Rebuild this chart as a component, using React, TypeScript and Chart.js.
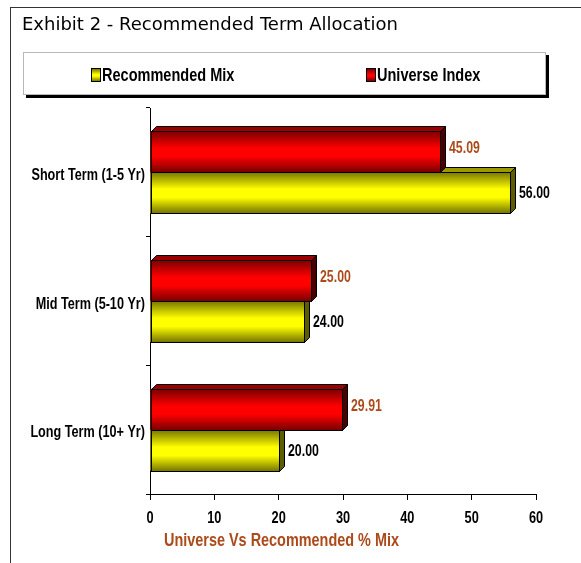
import { useEffect, useRef } from "react";
import { Chart, registerables } from "chart.js";

Chart.register(...registerables);

// Term buckets, top to bottom
const categories = ["Short Term (1-5 Yr)", "Mid Term (5-10 Yr)", "Long Term (10+ Yr)"];
// Allocation in percent
const universeIndex = [45.09, 25.0, 29.91];
const recommendedMix = [56.0, 24.0, 20.0];
// Horizontal axis ticks
const xTicks = [0, 10, 20, 30, 40, 50, 60];

const SANS = "'Liberation Sans', Arial, sans-serif";
const BROWN = "#ad4a1a";
const DEPTH = 5;

type Palette = { dark: string; light: string; top: string; side: string; label: string; dy: number };

const RED: Palette = { dark: "#780000", light: "#ff0000", top: "#9a0000", side: "#4a0000", label: BROWN, dy: 1.5 };
const YELLOW: Palette = { dark: "#767600", light: "#ffff00", top: "#9a9a00", side: "#5c5c00", label: "#000000", dy: 5.5 };
const palettes = [RED, YELLOW];

// Condensed bold lettering: regular bold glyphs squeezed horizontally.
function narrowText(
  ctx: CanvasRenderingContext2D,
  text: string,
  x: number,
  y: number,
  align: CanvasTextAlign,
  size: number,
  squeeze: number,
  color: string
) {
  ctx.save();
  ctx.translate(x, y);
  ctx.scale(squeeze, 1);
  ctx.font = `bold ${size}px ${SANS}`;
  ctx.fillStyle = color;
  ctx.textAlign = align;
  ctx.textBaseline = "alphabetic";
  ctx.fillText(text, 0, 0);
  ctx.restore();
}

// Paints each bar as a shaded block with a top and right face,
// then writes its value to the right of it.
const bar3d = {
  id: "bar3d",
  afterDatasetDraw(chart: any, args: any) {
    const ctx: CanvasRenderingContext2D = chart.ctx;
    const pal = palettes[args.index];
    const values = chart.data.datasets[args.index].data as number[];
    ctx.save();
    args.meta.data.forEach((el: any, i: number) => {
      const { x, y, base, height } = el.getProps(["x", "y", "base", "height"], true);
      const top = Math.round(y - height / 2);
      const bottom = Math.round(y + height / 2);
      const left = Math.round(Math.min(base, x));
      const right = Math.round(Math.max(base, x));
      const d = DEPTH;

      const g = ctx.createLinearGradient(0, top, 0, bottom);
      g.addColorStop(0, pal.dark);
      g.addColorStop(0.42, pal.light);
      g.addColorStop(0.62, pal.light);
      g.addColorStop(1, pal.dark);
      ctx.fillStyle = g;
      ctx.fillRect(left, top, right - left, bottom - top);

      ctx.lineWidth = 1;
      ctx.strokeStyle = "#000";

      // top face
      ctx.beginPath();
      ctx.moveTo(left + 0.5, top + 0.5);
      ctx.lineTo(left + d + 0.5, top - d + 0.5);
      ctx.lineTo(right + d + 0.5, top - d + 0.5);
      ctx.lineTo(right + 0.5, top + 0.5);
      ctx.closePath();
      ctx.fillStyle = pal.top;
      ctx.fill();
      ctx.stroke();

      // side face
      ctx.beginPath();
      ctx.moveTo(right + 0.5, top + 0.5);
      ctx.lineTo(right + d + 0.5, top - d + 0.5);
      ctx.lineTo(right + d + 0.5, bottom - d + 0.5);
      ctx.lineTo(right + 0.5, bottom + 0.5);
      ctx.closePath();
      ctx.fillStyle = pal.side;
      ctx.fill();
      ctx.stroke();

      // front outline
      ctx.strokeRect(left + 0.5, top + 0.5, right - left, bottom - top);

      narrowText(ctx, values[i].toFixed(2), right + d + 4, y + pal.dy, "left", 16, 0.77, pal.label);
    });
    ctx.restore();
  },
};

// Tick labels in condensed bold lettering, placed from the scales' own tick positions.
const narrowTicks = {
  id: "narrowTicks",
  afterDraw(chart: any) {
    const ctx: CanvasRenderingContext2D = chart.ctx;
    const xs = chart.scales.x;
    const ys = chart.scales.y;
    xs.ticks.forEach((t: any, i: number) => {
      narrowText(ctx, String(t.value), xs.getPixelForTick(i), xs.top + 29, "center", 17, 0.75, "#000");
    });
    ys.ticks.forEach((t: any, i: number) => {
      narrowText(ctx, ys.getLabelForValue(t.value), ys.right - 5, ys.getPixelForTick(i) + 7.5, "right", 16, 0.79, "#000");
    });
  },
};

function LegendItem({ pal, text, left }: { pal: Palette; text: string; left: number }) {
  return (
    <>
      <span
        style={{
          position: "absolute",
          left,
          top: 15,
          width: 8,
          height: 12,
          border: "1px solid #000",
          background: `linear-gradient(${pal.dark}, ${pal.light} 45%, ${pal.light} 60%, ${pal.dark})`,
        }}
      />
      <span
        style={{
          position: "absolute",
          left: left + 11,
          top: 12,
          lineHeight: "20px",
          whiteSpace: "nowrap",
          transform: "scaleX(0.83)",
          transformOrigin: "left center",
        }}
      >
        {text}
      </span>
    </>
  );
}

export default function App() {
  const canvasRef = useRef<HTMLCanvasElement | null>(null);

  useEffect(() => {
    if (!canvasRef.current) return;
    const chart = new Chart(canvasRef.current, {
      type: "bar",
      data: {
        labels: categories,
        datasets: [
          {
            label: "Universe Index",
            data: universeIndex,
            backgroundColor: RED.light,
            borderWidth: 0,
            categoryPercentage: 0.637,
            barPercentage: 1,
          },
          {
            label: "Recommended Mix",
            data: recommendedMix,
            backgroundColor: YELLOW.light,
            borderWidth: 0,
            categoryPercentage: 0.637,
            barPercentage: 1,
          },
        ],
      },
      options: {
        indexAxis: "y",
        responsive: false,
        animation: false,
        devicePixelRatio: 1,
        layout: { padding: { left: 0, right: 45, top: 108, bottom: 0 } },
        plugins: {
          legend: { display: false },
          tooltip: { enabled: false },
          title: { display: false },
        },
        scales: {
          x: {
            type: "linear",
            min: 0,
            max: 60,
            afterBuildTicks: (s: any) => {
              s.ticks = xTicks.map((v) => ({ value: v }));
            },
            afterFit: (s: any) => {
              s.height = 69;
            },
            ticks: { display: false },
            grid: { drawOnChartArea: false, tickLength: 6, color: "#000" },
            border: { display: true, color: "#000", width: 1 },
          },
          y: {
            type: "category",
            afterFit: (s: any) => {
              s.width = 150;
            },
            ticks: { display: false },
            grid: { drawOnChartArea: false, offset: true, tickLength: 4, color: "#000" },
            border: { display: true, color: "#000", width: 1 },
          },
        },
      },
      plugins: [bar3d, narrowTicks],
    });
    return () => chart.destroy();
  }, []);

  return (
    <div style={{ position: "absolute", left: 0, top: 0, width: 581, height: 563, overflow: "hidden", background: "#fff" }}>
      <canvas ref={canvasRef} width={581} height={563} style={{ position: "absolute", left: 0, top: 0 }} />
      <div
        style={{
          position: "absolute",
          left: 10,
          top: 7,
          width: 600,
          height: 600,
          borderLeft: "1px solid #333",
          borderTop: "1px solid #333",
          pointerEvents: "none",
        }}
      />
      <div
        style={{
          position: "absolute",
          left: 22,
          top: 14,
          fontFamily: "'DejaVu Sans', sans-serif",
          fontSize: 18,
          lineHeight: "20px",
          color: "#000",
          whiteSpace: "nowrap",
        }}
      >
        Exhibit 2 - Recommended Term Allocation
      </div>
      <div
        style={{
          position: "absolute",
          left: 23,
          top: 52,
          width: 521,
          height: 41,
          border: "1px solid #b8b8b8",
          boxShadow: "3px 3px 0 #000",
          background: "#fff",
          fontFamily: SANS,
          fontWeight: "bold",
          fontSize: 17.5,
          color: "#000",
        }}
      >
        <LegendItem pal={YELLOW} text="Recommended Mix" left={67} />
        <LegendItem pal={RED} text="Universe Index" left={342} />
      </div>
      <div
        style={{
          position: "absolute",
          left: 164,
          top: 529,
          fontFamily: SANS,
          fontWeight: "bold",
          fontSize: 18.5,
          lineHeight: "22px",
          color: BROWN,
          whiteSpace: "nowrap",
          transform: "scaleX(0.78)",
          transformOrigin: "left center",
        }}
      >
        Universe Vs Recommended % Mix
      </div>
    </div>
  );
}
